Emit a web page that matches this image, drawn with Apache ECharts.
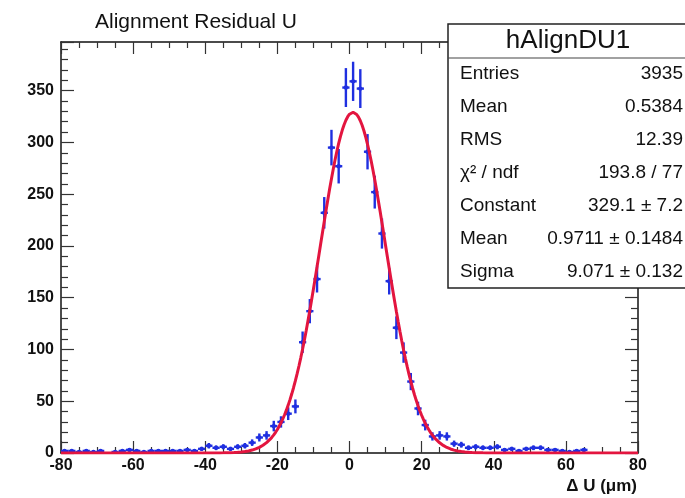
<!DOCTYPE html>
<html>
<head>
<meta charset="utf-8">
<script src="https://cdn.jsdelivr.net/npm/echarts@6/dist/echarts.min.js"></script>
<style>
  html, body { margin: 0; padding: 0; background: #fff; }
  #main { width: 685px; height: 498px; }
</style>
</head>
<body>
<div id="main"></div>
<script>
// histogram bins (width 2), only bins with entries
const binCenters = [-79, -77, -75, -73, -71, -69, -65, -63, -61, -59, -57, -55, -53, -51, -49, -47, -45, -43, -41,
  -39, -37, -35, -33, -31, -29, -27, -25, -23, -21, -19, -17, -15, -13, -11, -9, -7, -5, -3, -1,
  1, 3, 5, 7, 9, 11, 13, 15, 17, 19, 21, 23, 25, 27, 29, 31, 33, 35, 37, 39,
  41, 43, 45, 47, 49, 51, 53, 55, 57, 59, 61, 63, 65]
const counts = [2, 2, 1, 2, 1, 2, 1, 2, 3, 2, 1, 2, 2, 2, 2, 2, 3, 2, 4,
  7, 5, 6, 4, 6, 7, 10, 15, 17, 26, 30, 38, 45, 107, 137, 168, 232, 295, 277, 353,
  359, 352, 291, 252, 212, 166, 121, 97, 69, 43, 27, 16, 17, 16, 9, 8, 5, 6, 5, 5,
  6, 3, 4, 2, 4, 5, 5, 3, 3, 2, 1, 2, 3]
const binHalfWidth = 1

// gaus fit parameters from the stats box
const fitConstant = 329.1
const fitMean = 0.9711
const fitSigma = 9.071

const xTicks = [-80, -60, -40, -20, 0, 20, 40, 60, 80]
const yMax = 397

const statsTitle = 'hAlignDU1'
const statsLabels = ['Entries', 'Mean', 'RMS', 'χ² / ndf', 'Constant', 'Mean', 'Sigma']
const statsValues = ['3935', '0.5384', '12.39', '193.8 / 77', '329.1 ± 7.2', '0.9711 ± 0.1484', '9.071 ± 0.132']

const blue = '#1f2fe0'
const red = '#e3153f'
const fontFam = '"Liberation Sans", Arial, sans-serif'

let points = binCenters.map((x, i) => [x, counts[i], Math.sqrt(counts[i])])

let fitLine = []
for (let x = xTicks[0]; x <= xTicks[xTicks.length - 1]; x += 0.5) {
  let d = (x - fitMean) / fitSigma
  fitLine.push([x, fitConstant * Math.exp(-0.5 * d * d)])
}

var myChart = echarts.init(document.getElementById('main'))

const frameAxis = {
  axisLine: {show: true, onZero: false, lineStyle: {color: '#111', width: 1.5}},
  axisTick: {show: true, inside: true, lineStyle: {color: '#333', width: 1.2}},
  minorTick: {show: true, lineStyle: {color: '#333', width: 1.2}},
  splitLine: {show: false},
  minorSplitLine: {show: false}
}

let statsGraphics = [
  {type: 'rect', shape: {x: 448, y: 24, width: 250, height: 264},
    style: {fill: '#fff', stroke: '#222', lineWidth: 1.5}, z: 100},
  {type: 'line', shape: {x1: 448, y1: 58, x2: 698, y2: 58},
    style: {stroke: '#444', lineWidth: 1.2}, z: 101},
  {type: 'text', x: 568, y: 41, z: 101,
    style: {text: statsTitle, font: '26px ' + fontFam, fill: '#111',
      align: 'center', verticalAlign: 'middle'}}
]
statsLabels.forEach((lab, i) => {
  let y = 74 + i * 33
  statsGraphics.push({type: 'text', x: 460, y: y, z: 101,
    style: {text: lab, font: '19px ' + fontFam, fill: '#111',
      align: 'left', verticalAlign: 'middle'}})
  statsGraphics.push({type: 'text', x: 683, y: y, z: 101,
    style: {text: statsValues[i], font: '19px ' + fontFam, fill: '#111',
      align: 'right', verticalAlign: 'middle'}})
})

myChart.setOption({
  animation: false,
  backgroundColor: '#fff',
  title: {
    text: 'Alignment Residual U',
    left: 90,
    top: 7,
    textStyle: {fontFamily: fontFam, fontSize: 21, fontWeight: 'normal', color: '#111'}
  },
  grid: {left: 61, right: 47, top: 42, bottom: 45},
  xAxis: [
    Object.assign({}, frameAxis, {
      type: 'value', position: 'bottom', min: -80, max: 80, interval: 20,
      axisTick: Object.assign({}, frameAxis.axisTick, {length: 12}),
      minorTick: Object.assign({}, frameAxis.minorTick, {splitNumber: 4, length: 6}),
      axisLabel: {
        margin: 5, color: '#111', fontSize: 16, fontWeight: 'bold',
        fontFamily: fontFam,
        formatter: v => String(v)
      }
    }),
    Object.assign({}, frameAxis, {
      type: 'value', position: 'top', min: -80, max: 80, interval: 20,
      axisTick: Object.assign({}, frameAxis.axisTick, {length: 12}),
      minorTick: Object.assign({}, frameAxis.minorTick, {splitNumber: 4, length: 6}),
      axisLabel: {show: false}
    })
  ],
  yAxis: [
    Object.assign({}, frameAxis, {
      type: 'value', position: 'left', min: 0, max: yMax, interval: 50,
      axisTick: Object.assign({}, frameAxis.axisTick, {length: 13}),
      minorTick: Object.assign({}, frameAxis.minorTick, {splitNumber: 5, length: 7}),
      axisLabel: {
        margin: 7, color: '#111', fontSize: 16, fontWeight: 'bold', showMaxLabel: false,
        fontFamily: fontFam,
        formatter: v => (v % 50 === 0 ? String(v) : '')
      }
    }),
    Object.assign({}, frameAxis, {
      type: 'value', position: 'right', min: 0, max: yMax, interval: 50,
      axisTick: Object.assign({}, frameAxis.axisTick, {length: 13}),
      minorTick: Object.assign({}, frameAxis.minorTick, {splitNumber: 5, length: 7}),
      axisLabel: {show: false}
    })
  ],
  series: [
    {
      name: 'hAlignDU1',
      type: 'custom',
      xAxisIndex: 0,
      yAxisIndex: 0,
      clip: true,
      z: 3,
      data: points,
      renderItem: function (params, api) {
        let x = api.value(0), y = api.value(1), e = api.value(2)
        let c = api.coord([x, y])
        let lo = api.coord([x, Math.max(0, y - e)])
        let hi = api.coord([x, y + e])
        let l = api.coord([x - binHalfWidth, y])
        let r = api.coord([x + binHalfWidth, y])
        return {
          type: 'group',
          children: [
            {type: 'line', shape: {x1: lo[0], y1: lo[1], x2: hi[0], y2: hi[1]}, style: {stroke: blue, lineWidth: 2.4}},
            {type: 'line', shape: {x1: l[0], y1: l[1], x2: r[0], y2: r[1]}, style: {stroke: blue, lineWidth: 2.4}},
            {type: 'circle', shape: {cx: c[0], cy: c[1], r: 2.2}, style: {fill: blue}}
          ]
        }
      }
    },
    {
      name: 'gaus',
      type: 'line',
      xAxisIndex: 0,
      yAxisIndex: 0,
      showSymbol: false,
      z: 4,
      data: fitLine,
      lineStyle: {color: red, width: 3}
    }
  ],
  graphic: statsGraphics.concat([
    {type: 'text', right: 48, top: 478,
      style: {text: 'Δ U (μm)', font: 'bold 17px ' + fontFam, fill: '#111'}}
  ])
})
</script>
</body>
</html>
